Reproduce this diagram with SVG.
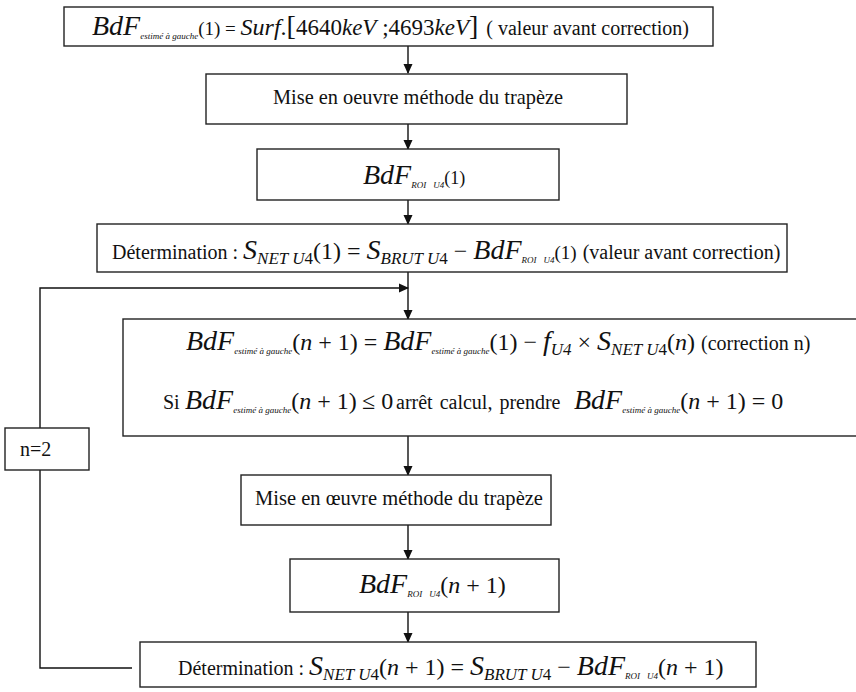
<svg xmlns="http://www.w3.org/2000/svg" width="856" height="692" viewBox="0 0 856 692">
<defs>
<marker id="ah" markerWidth="10" markerHeight="10" refX="9" refY="5" orient="auto" markerUnits="userSpaceOnUse">
<path d="M0,0.5 L10,5 L0,9.5 Z" fill="#111"/>
</marker>
<style>
.box{fill:#fff;stroke:#222;stroke-width:1.4}
.ln{fill:none;stroke:#111;stroke-width:1.4}
text{font-family:"Liberation Serif","Times New Roman",serif;fill:#111}
.i{font-style:italic}
.big{font-style:italic;font-size:28px}
.sub{font-style:italic;font-size:9px}
.sub2{font-style:italic;font-size:17px}
.p{font-size:24px}
.w{font-size:20px}
</style>
</defs>
<g id="connectors">
<line class="ln" x1="408" y1="46" x2="408" y2="73" marker-end="url(#ah)"/>
<line class="ln" x1="408" y1="124" x2="408" y2="149" marker-end="url(#ah)"/>
<line class="ln" x1="408" y1="200" x2="408" y2="224" marker-end="url(#ah)"/>
<line class="ln" x1="408" y1="272" x2="408" y2="319" marker-end="url(#ah)"/>
<polyline class="ln" points="132,668 40,668 40,288 408,288" marker-end="url(#ah)"/>
<line class="ln" x1="408" y1="436" x2="408" y2="475" marker-end="url(#ah)"/>
<line class="ln" x1="408" y1="525" x2="408" y2="559" marker-end="url(#ah)"/>
<line class="ln" x1="408" y1="612" x2="408" y2="642" marker-end="url(#ah)"/>
</g>
<g id="n1">
<rect class="box" x="64" y="7" width="649" height="39"/>
<text x="92" y="35"><tspan class="big" font-size="27">BdF</tspan><tspan class="sub" font-size="10" dy="4">estimé à gauche</tspan><tspan font-size="19" dy="-4">(1) = </tspan><tspan class="i" font-size="24">Surf</tspan><tspan font-size="24">.</tspan><tspan font-size="28">[</tspan><tspan font-size="23">4640</tspan><tspan class="i" font-size="23">keV</tspan><tspan font-size="23"> ;4693</tspan><tspan class="i" font-size="23">keV</tspan><tspan font-size="28">]</tspan><tspan class="w" dx="8">( valeur avant correction)</tspan></text>
</g>
<g id="n2">
<rect class="box" x="206" y="74" width="421" height="50"/>
<text x="273" y="104" font-size="21" textLength="290" lengthAdjust="spacingAndGlyphs">Mise en oeuvre méthode du trapèze</text>
</g>
<g id="n3">
<rect class="box" x="257" y="149" width="302" height="51"/>
<text x="363" y="184"><tspan class="big">BdF</tspan><tspan class="sub" font-size="8" dy="4">ROI</tspan><tspan class="sub" dx="7" dy="0">U4</tspan><tspan font-size="18" dy="-4">(1)</tspan></text>
</g>
<g id="n4">
<rect class="box" x="97" y="224" width="690" height="48"/>
<text x="112" y="259"><tspan class="w">Détermination : </tspan><tspan class="big">S</tspan><tspan class="sub2" dy="5">NET U</tspan><tspan font-size="17">4</tspan><tspan class="p" dy="-5">(1) = </tspan><tspan class="big">S</tspan><tspan class="sub2" dy="5">BRUT U</tspan><tspan font-size="17">4</tspan><tspan class="p" dy="-5"> − </tspan><tspan class="big">BdF</tspan><tspan class="sub" font-size="8" dy="4">ROI</tspan><tspan class="sub" dx="7">U4</tspan><tspan font-size="19" dy="-4">(1)</tspan><tspan class="w" dx="6">(valeur avant correction)</tspan></text>
</g>
<g id="n5">
<rect class="box" x="123" y="319" width="740" height="117"/>
<text x="186" y="350"><tspan class="big">BdF</tspan><tspan class="sub" dy="4">estimé à gauche</tspan><tspan class="p" dy="-4">(</tspan><tspan class="i p">n</tspan><tspan class="p"> + 1) = </tspan><tspan class="big">BdF</tspan><tspan class="sub" dy="4">estimé à gauche</tspan><tspan class="p" dy="-4">(1) − </tspan><tspan class="big">f</tspan><tspan class="sub2" dy="5" font-size="13">U4</tspan><tspan class="p" dy="-5"> × </tspan><tspan class="big">S</tspan><tspan class="sub2" dy="5">NET U</tspan><tspan font-size="17">4</tspan><tspan class="p" dy="-5">(</tspan><tspan class="i p">n</tspan><tspan class="p">)</tspan><tspan class="w" dx="6">(correction n)</tspan></text>
<text y="409"><tspan x="163" class="w">Si</tspan><tspan x="185" class="big">BdF</tspan><tspan class="sub" dy="4">estimé à gauche</tspan><tspan class="p" dy="-4">(</tspan><tspan class="i p">n</tspan><tspan class="p"> + 1)</tspan><tspan class="p" x="362">≤ 0</tspan><tspan x="396" class="w" font-size="21" word-spacing="2">arrêt calcul, prendre</tspan><tspan x="574" class="big">BdF</tspan><tspan class="sub" dy="4">estimé à gauche</tspan><tspan class="p" dy="-4">(</tspan><tspan class="i p">n</tspan><tspan class="p"> + 1) = 0</tspan></text>
</g>
<g id="n6">
<rect class="box" x="5" y="428" width="84" height="42"/>
<text x="20" y="456" font-size="20">n=2</text>
</g>
<g id="n7">
<rect class="box" x="241" y="475" width="310" height="50"/>
<text x="255" y="505" font-size="21" textLength="288" lengthAdjust="spacingAndGlyphs">Mise en œuvre méthode du trapèze</text>
</g>
<g id="n8">
<rect class="box" x="290" y="559" width="269" height="53"/>
<text x="359" y="593"><tspan class="big">BdF</tspan><tspan class="sub" font-size="8" dy="4">ROI</tspan><tspan class="sub" dx="7">U4</tspan><tspan class="p" dy="-4">(</tspan><tspan class="i p">n</tspan><tspan class="p"> + 1)</tspan></text>
</g>
<g id="n9">
<rect class="box" x="140" y="642" width="616" height="45"/>
<text x="178" y="675"><tspan class="w">Détermination : </tspan><tspan class="big">S</tspan><tspan class="sub2" dy="5">NET U</tspan><tspan font-size="17">4</tspan><tspan class="p" dy="-5">(</tspan><tspan class="i p">n</tspan><tspan class="p"> + 1) = </tspan><tspan class="big">S</tspan><tspan class="sub2" dy="5">BRUT U</tspan><tspan font-size="17">4</tspan><tspan class="p" dy="-5"> − </tspan><tspan class="big">BdF</tspan><tspan class="sub" font-size="8" dy="4">ROI</tspan><tspan class="sub" dx="7">U4</tspan><tspan class="p" dy="-4">(</tspan><tspan class="i p">n</tspan><tspan class="p"> + 1)</tspan></text>
</g>
</svg>
